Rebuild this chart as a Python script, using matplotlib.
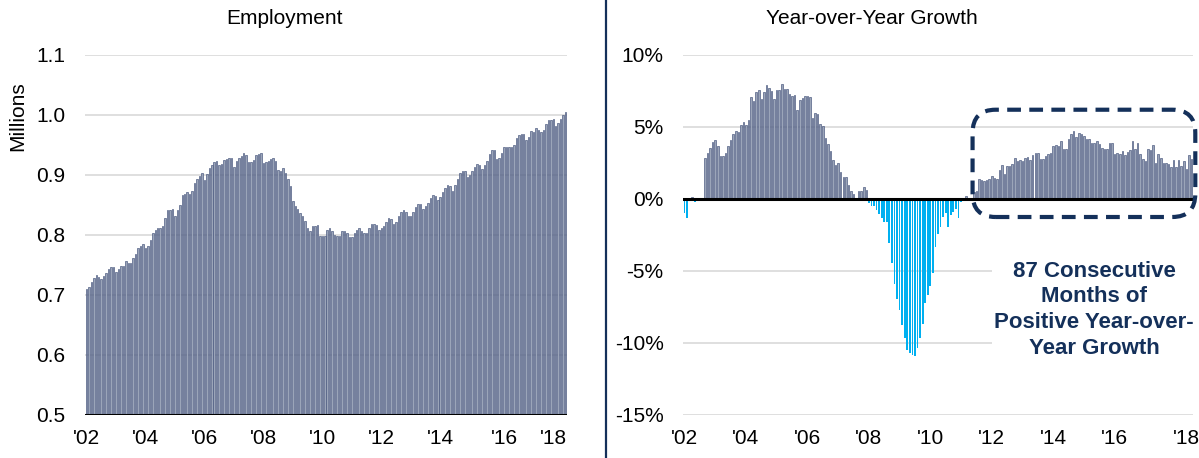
import matplotlib
matplotlib.use("Agg")
from matplotlib import pyplot as plt
from matplotlib.patches import FancyBboxPatch
import numpy as np

plt.rcParams['font.family'] = ['Liberation Sans', 'DejaVu Sans']

# monthly employment, millions (Jan 2002 onwards)
employment = [
    0.710, 0.714, 0.722, 0.728, 0.734, 0.730, 0.726, 0.732, 0.737, 0.743,
    0.746, 0.746, 0.738, 0.743, 0.749, 0.749, 0.756, 0.754, 0.754, 0.761,
    0.769, 0.779, 0.782, 0.785, 0.778, 0.782, 0.791, 0.803, 0.808, 0.811,
    0.811, 0.815, 0.828, 0.841, 0.842, 0.844, 0.832, 0.841, 0.850, 0.867,
    0.869, 0.872, 0.869, 0.873, 0.887, 0.893, 0.898, 0.903, 0.892, 0.902,
    0.911, 0.916, 0.921, 0.923, 0.916, 0.918, 0.925, 0.927, 0.929, 0.928,
    0.913, 0.923, 0.928, 0.931, 0.936, 0.933, 0.922, 0.922, 0.925, 0.933,
    0.935, 0.936, 0.920, 0.922, 0.923, 0.926, 0.929, 0.923, 0.909, 0.907,
    0.911, 0.904, 0.893, 0.881, 0.856, 0.849, 0.843, 0.836, 0.831, 0.823,
    0.811, 0.807, 0.815, 0.815, 0.816, 0.798, 0.798, 0.799, 0.808,
    0.811, 0.807, 0.800, 0.799, 0.799, 0.806, 0.806, 0.804, 0.797, 0.797,
    0.803, 0.809, 0.811, 0.807, 0.804, 0.804, 0.811, 0.818, 0.818, 0.816,
    0.808, 0.811, 0.815, 0.822, 0.828, 0.827, 0.818, 0.822, 0.831, 0.838,
    0.842, 0.839, 0.831, 0.832, 0.839, 0.846, 0.851, 0.851, 0.844, 0.848,
    0.853, 0.861, 0.867, 0.865, 0.858, 0.863, 0.871, 0.878, 0.884, 0.881,
    0.874, 0.884, 0.893, 0.904, 0.906, 0.906, 0.897, 0.900, 0.907, 0.914,
    0.919, 0.916, 0.910, 0.917, 0.924, 0.935, 0.942, 0.942, 0.926, 0.929,
    0.937, 0.946, 0.946, 0.946, 0.946, 0.950, 0.961, 0.966, 0.969, 0.968,
    0.959, 0.963, 0.973, 0.971, 0.978, 0.975, 0.971, 0.975, 0.985, 0.991,
    0.991, 0.993, 0.982, 0.987, 0.993, 1.000, 1.005,
]

# year-over-year growth, percent (Jan 2002 onwards)
yoy_growth = [
    -1.00, -1.30, -0.10, 0.16, -0.23, 0.10, 0.00, 0.10, 2.85, 3.18,
    3.53, 3.95, 4.07, 3.67, 2.99, 2.97, 3.20, 3.69, 4.09, 4.51,
    4.74, 4.65, 5.12, 5.35, 5.14, 5.47, 7.08, 6.82, 7.45, 7.57,
    6.96, 7.41, 7.90, 7.71, 7.50, 6.96, 7.57, 7.57, 7.99, 7.66,
    7.66, 7.31, 7.13, 7.24, 6.19, 6.89, 7.01, 7.13, 7.17, 7.08,
    5.61, 6.00, 5.89, 5.21, 5.07, 4.25, 3.81, 3.32, 2.69, 2.38,
    2.50, 1.85, 1.52, 1.52, 1.00, 0.54, 0.33, 0.05, 0.54, 0.58,
    0.84, 0.65,
    -0.25, -0.48, -0.46, -0.76, -1.06, -1.34, -1.57, -1.57, -3.07, -4.46,
    -5.91, -6.95, -7.69, -8.73, -9.65, -10.46, -10.69, -10.81, -10.92, -10.35,
    -9.65, -8.68, -7.23, -6.65, -6.07, -5.15, -3.35, -2.42, -1.96, -1.27,
    -0.99, -1.92, -1.11, -0.92, -0.69, -1.34, -0.18, -0.12,
    0.19, 0.02, 0.02, 0.49, 0.53, 1.41, 1.34, 1.25, 1.34, 1.39, 1.62, 1.48,
    1.41, 1.99, 2.38, 1.71, 2.29, 2.29, 2.45, 2.87, 2.64, 2.73,
    2.64, 2.87, 2.92, 2.73, 3.03, 3.19, 3.22, 2.80, 2.80, 2.96,
    3.15, 3.22, 3.68, 3.73, 3.68, 4.00, 3.47, 3.47, 4.19, 4.54,
    4.72, 4.31, 4.58, 4.54, 4.35, 4.19, 4.19, 3.89, 3.89, 4.03,
    3.80, 3.56, 3.50, 3.50, 3.91, 3.91, 3.15, 3.22, 3.15, 3.31,
    3.03, 3.26, 3.38, 4.00, 3.45, 3.89, 3.15, 2.80, 2.62, 3.50,
    3.38, 3.77, 2.52, 3.15, 2.87, 2.50, 2.50, 2.45, 2.22, 2.69,
    2.22, 2.69, 2.27, 2.64, 2.11, 3.08, 2.80,
]

year_labels = ["'02", "'04", "'06", "'08", "'10", "'12", "'14", "'16", "'18"]

NAVY = '#14305a'
BAR = '#9ba5b9'
BAR_EDGE = '#44527a'
NEG = '#00b0f0'
GRID = '#d9d9d9'

fig = plt.figure(figsize=(11.99, 4.58), dpi=100)
ax1 = fig.add_axes([85 / 1199, 1 - 415 / 458, (567 - 85) / 1199, 360 / 458])
ax2 = fig.add_axes([683 / 1199, 1 - 415 / 458, (1193 - 683) / 1199, 360 / 458])

# left: employment level
x1 = np.arange(len(employment))
ax1.bar(x1, np.array(employment) - 0.5, bottom=0.5, width=0.6,
        color=BAR, edgecolor=BAR_EDGE, linewidth=0.45, zorder=2)
ax1.set_ylim(0.5, 1.1)
ax1.set_xlim(-0.6, len(employment) - 0.4)
ax1.set_yticks([0.5, 0.6, 0.7, 0.8, 0.9, 1.0, 1.1])
ax1.set_yticklabels(['0.5', '0.6', '0.7', '0.8', '0.9', '1.0', '1.1'])
ax1.set_xticks([0, 24, 48, 72, 96, 120, 144, 170, 190])
ax1.set_xticklabels(year_labels)
ax1.set_ylabel('Millions', fontsize=15)
ax1.yaxis.set_label_coords(-0.12, 0.83)

# right: year-over-year growth
yoy = np.array(yoy_growth)
x2 = np.arange(len(yoy))
pos = yoy >= 0
ax2.bar(x2[pos], yoy[pos], width=0.6, color=BAR, edgecolor=BAR_EDGE,
        linewidth=0.45, zorder=2)
ax2.bar(x2[~pos], yoy[~pos], width=0.7, color=NEG, linewidth=0, zorder=2)
ax2.set_ylim(-15, 10)
ax2.set_xlim(-0.6, len(yoy) - 0.4)
ax2.set_yticks([-15, -10, -5, 0, 5, 10])
ax2.set_yticklabels(['-15%', '-10%', '-5%', '0%', '5%', '10%'])
ax2.set_xticks([0, 24, 48, 72, 96, 120, 144, 168, 196])
ax2.set_xticklabels(year_labels)

fig.text(285 / 1199, 1 - 18 / 458, 'Employment', fontsize=15,
         ha='center', va='center')
fig.text(872 / 1199, 1 - 18 / 458, 'Year-over-Year Growth', fontsize=15,
         ha='center', va='center')

for ax, base in ((ax1, 0.5), (ax2, 0)):
    for s in ('left', 'right', 'top', 'bottom'):
        ax.spines[s].set_visible(False)
    ax.axhline(base, color='black', linewidth=2.2, zorder=4)
    ax.grid(axis='y', color=GRID, linewidth=1.2, zorder=1)
    ax.set_axisbelow(True)
    ax.tick_params(axis='both', length=0, labelsize=15, pad=10)
    ax.tick_params(axis='y', pad=14)

# dashed callout around the recovery run
box = FancyBboxPatch((112.5, -1.25), len(yoy) - 112.0, 7.45,
                     boxstyle='round,pad=0,rounding_size=9',
                     mutation_aspect=0.18,
                     fill=False, edgecolor=NAVY, linewidth=3,
                     linestyle=(0, (3.3, 2)), clip_on=False, zorder=5)
ax2.add_patch(box)
ax2.text(160, -7.7, '87 Consecutive\nMonths of\nPositive Year-over-\nYear Growth',
         ha='center', va='center', fontsize=16, fontweight='bold',
         color=NAVY, linespacing=1.3, zorder=6,
         bbox=dict(facecolor='white', edgecolor='none', pad=2))

# divider between the two panels
fig.add_artist(plt.Line2D([606 / 1199, 606 / 1199], [0, 1], color=NAVY,
                          linewidth=1.6, transform=fig.transFigure))

fig.savefig('out.png', dpi=100)
